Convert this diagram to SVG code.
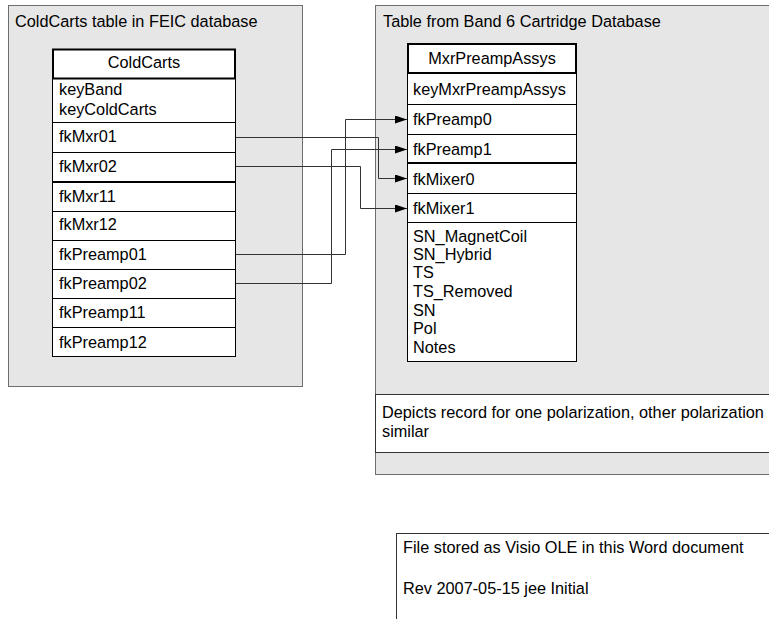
<svg xmlns="http://www.w3.org/2000/svg" width="769" height="619" viewBox="0 0 769 619">
<defs>
<style>
text{font-family:"Liberation Sans",Arial,sans-serif;font-size:16.3px;fill:#000}
.cont{fill:#e6e6e6;stroke:#6e6e6e;stroke-width:1}
.tbl{fill:#fff;stroke:#000;stroke-width:1}
.hdr{fill:#fff;stroke:#000;stroke-width:2}
.sep{stroke:#000;stroke-width:1}
.sep2{stroke:#000;stroke-width:2}
.note{fill:#fff;stroke:#333;stroke-width:1}
.conn{fill:none;stroke:#333;stroke-width:1}
.mid{text-anchor:middle}
</style>
<marker id="arr" viewBox="0 0 12 8" refX="12" refY="4" markerWidth="12" markerHeight="8" markerUnits="userSpaceOnUse" orient="auto">
<path d="M0,0 L12,4 L0,8 Z" fill="#000"/>
</marker>
</defs>

<g id="coldcarts-container">
<rect class="cont" x="8.5" y="5.5" width="294" height="381"/>
<text x="15" y="27">ColdCarts table in FEIC database</text>
</g>

<g id="band6-container">
<rect class="cont" x="375.5" y="5.5" width="400" height="469"/>
<text x="383" y="27">Table from Band 6 Cartridge Database</text>
</g>

<g id="coldcarts-table">
<rect class="tbl" x="52.5" y="78.5" width="183" height="278"/>
<rect class="hdr" x="53" y="49.5" width="182" height="29"/>
<text class="mid" x="144" y="68">ColdCarts</text>
<line class="sep" x1="52" y1="122.5" x2="236" y2="122.5"/>
<line class="sep" x1="52" y1="152.5" x2="236" y2="152.5"/>
<line class="sep2" x1="52" y1="182" x2="236" y2="182"/>
<line class="sep" x1="52" y1="211.5" x2="236" y2="211.5"/>
<line class="sep" x1="52" y1="240.5" x2="236" y2="240.5"/>
<line class="sep" x1="52" y1="269.5" x2="236" y2="269.5"/>
<line class="sep" x1="52" y1="298.5" x2="236" y2="298.5"/>
<line class="sep" x1="52" y1="327.5" x2="236" y2="327.5"/>
<text x="59" y="95">keyBand</text>
<text x="59" y="115">keyColdCarts</text>
<text x="59" y="142">fkMxr01</text>
<text x="59" y="172">fkMxr02</text>
<text x="59" y="202">fkMxr11</text>
<text x="59" y="230">fkMxr12</text>
<text x="59" y="260">fkPreamp01</text>
<text x="59" y="289">fkPreamp02</text>
<text x="59" y="318">fkPreamp11</text>
<text x="59" y="348">fkPreamp12</text>
</g>

<g id="mxrpreamp-table">
<rect class="tbl" x="407.5" y="73.5" width="169" height="288"/>
<rect class="hdr" x="408" y="44" width="168" height="29"/>
<text class="mid" x="492" y="64">MxrPreampAssys</text>
<line class="sep" x1="407" y1="104.5" x2="577" y2="104.5"/>
<line class="sep" x1="407" y1="134.5" x2="577" y2="134.5"/>
<line class="sep2" x1="407" y1="163" x2="577" y2="163"/>
<line class="sep" x1="407" y1="193.5" x2="577" y2="193.5"/>
<line class="sep" x1="407" y1="222.5" x2="577" y2="222.5"/>
<text x="413" y="95">keyMxrPreampAssys</text>
<text x="413" y="125">fkPreamp0</text>
<text x="413" y="155">fkPreamp1</text>
<text x="413" y="185">fkMixer0</text>
<text x="413" y="214">fkMixer1</text>
<text x="413" y="242">SN_MagnetCoil</text>
<text x="413" y="260">SN_Hybrid</text>
<text x="413" y="278">TS</text>
<text x="413" y="297">TS_Removed</text>
<text x="413" y="316">SN</text>
<text x="413" y="334">Pol</text>
<text x="413" y="353">Notes</text>
</g>

<g id="polarization-note">
<rect class="note" x="375.5" y="394.5" width="400" height="58"/>
<text x="382" y="418">Depicts record for one polarization, other polarization</text>
<text x="382" y="437">similar</text>
</g>

<g id="file-note">
<rect class="note" x="396.5" y="533.5" width="400" height="100"/>
<text x="403" y="553">File stored as Visio OLE in this Word document</text>
<text x="403" y="594">Rev 2007-05-15 jee Initial</text>
</g>

<g id="connectors">
<polyline class="conn" points="236,137.5 378.5,137.5 378.5,178.5 407,178.5" marker-end="url(#arr)"/>
<polyline class="conn" points="236,166.5 360.5,166.5 360.5,208.5 407,208.5" marker-end="url(#arr)"/>
<polyline class="conn" points="236,254.5 345.5,254.5 345.5,119.5 407,119.5" marker-end="url(#arr)"/>
<polyline class="conn" points="236,283.5 331.5,283.5 331.5,149.5 407,149.5" marker-end="url(#arr)"/>
</g>
</svg>
